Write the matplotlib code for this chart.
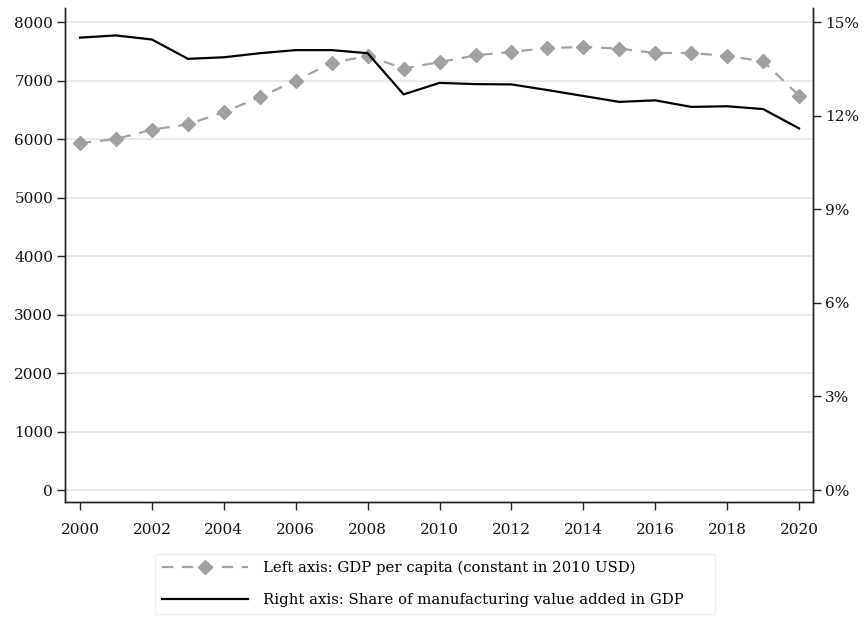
import matplotlib
matplotlib.use("Agg")
import matplotlib.pyplot as plt
from matplotlib.ticker import FuncFormatter

years = list(range(2000, 2021))

# GDP per capita, constant 2010 USD (left axis)
gdp_per_capita = [5930, 6000, 6160, 6250, 6460, 6715, 7000, 7300, 7420, 7205,
                  7315, 7430, 7490, 7555, 7575, 7545, 7470, 7470, 7420, 7330,
                  6740]

# manufacturing value added, % of GDP (right axis)
mfg_share = [14.50, 14.57, 14.44, 13.82, 13.87, 14.00, 14.10, 14.10, 14.00, 12.68,
             13.05, 13.01, 13.00, 12.82, 12.63, 12.44, 12.49, 12.28, 12.30, 12.21,
             11.59]

left_ticks = [0, 1000, 2000, 3000, 4000, 5000, 6000, 7000, 8000]
right_ticks = [0, 3, 6, 9, 12, 15]
x_ticks = list(range(2000, 2021, 2))

label_gdp = "Left axis: GDP per capita (constant in 2010 USD)"
label_mfg = "Right axis: Share of manufacturing value added in GDP"

plt.rcParams['font.family'] = ['DejaVu Serif']

fig = plt.figure(figsize=(8.65, 6.24), dpi=100)
ax = fig.add_axes([0.0751, 0.1955, 0.8649, 0.7917])
ax2 = ax.twinx()

ylo, yhi = -205, 8240
scale = 15 / 8000
ax.set_ylim(ylo, yhi)
ax2.set_ylim(ylo * scale, yhi * scale)
ax.set_xlim(1999.58, 2020.39)

ax.set_yticks(left_ticks)
ax.set_xticks(x_ticks)
ax2.set_yticks(right_ticks)
ax2.yaxis.set_major_formatter(FuncFormatter(lambda v, p: "%d%%" % v))

ax.grid(axis='y', color='#e0eaed', linewidth=1.3)
ax.set_axisbelow(True)

gdp_line, = ax.plot(years, gdp_per_capita, color='#a3a3a3', linewidth=1.6,
                    dashes=(5, 4), marker='D', markersize=7,
                    markerfacecolor='#a0a0a0', markeredgecolor='#a0a0a0')
mfg_line, = ax2.plot(years, mfg_share, color='black', linewidth=1.6)

for a in (ax, ax2):
    a.spines['top'].set_visible(False)
    for s in ('left', 'right', 'bottom'):
        a.spines[s].set_color('#222222')
        a.spines[s].set_linewidth(1.0)
    a.tick_params(length=6, width=1.0, colors='#222222', labelcolor='#111111',
                  labelsize=11, pad=2.5)
ax.tick_params(axis='x', pad=9)

leg = fig.legend([gdp_line, mfg_line], [label_gdp, label_mfg],
                 loc='upper left', bbox_to_anchor=(0.179, 0.0, 0.648, 0.112),
                 mode='expand', borderaxespad=0, handlelength=5.85,
                 handletextpad=0.95, labelspacing=1.2, borderpad=0.45,
                 fontsize=10.7, fancybox=False, frameon=True)
leg.get_frame().set_edgecolor('#e8eef0')
leg.get_frame().set_linewidth(1.0)

fig.savefig("out.png", dpi=100)
